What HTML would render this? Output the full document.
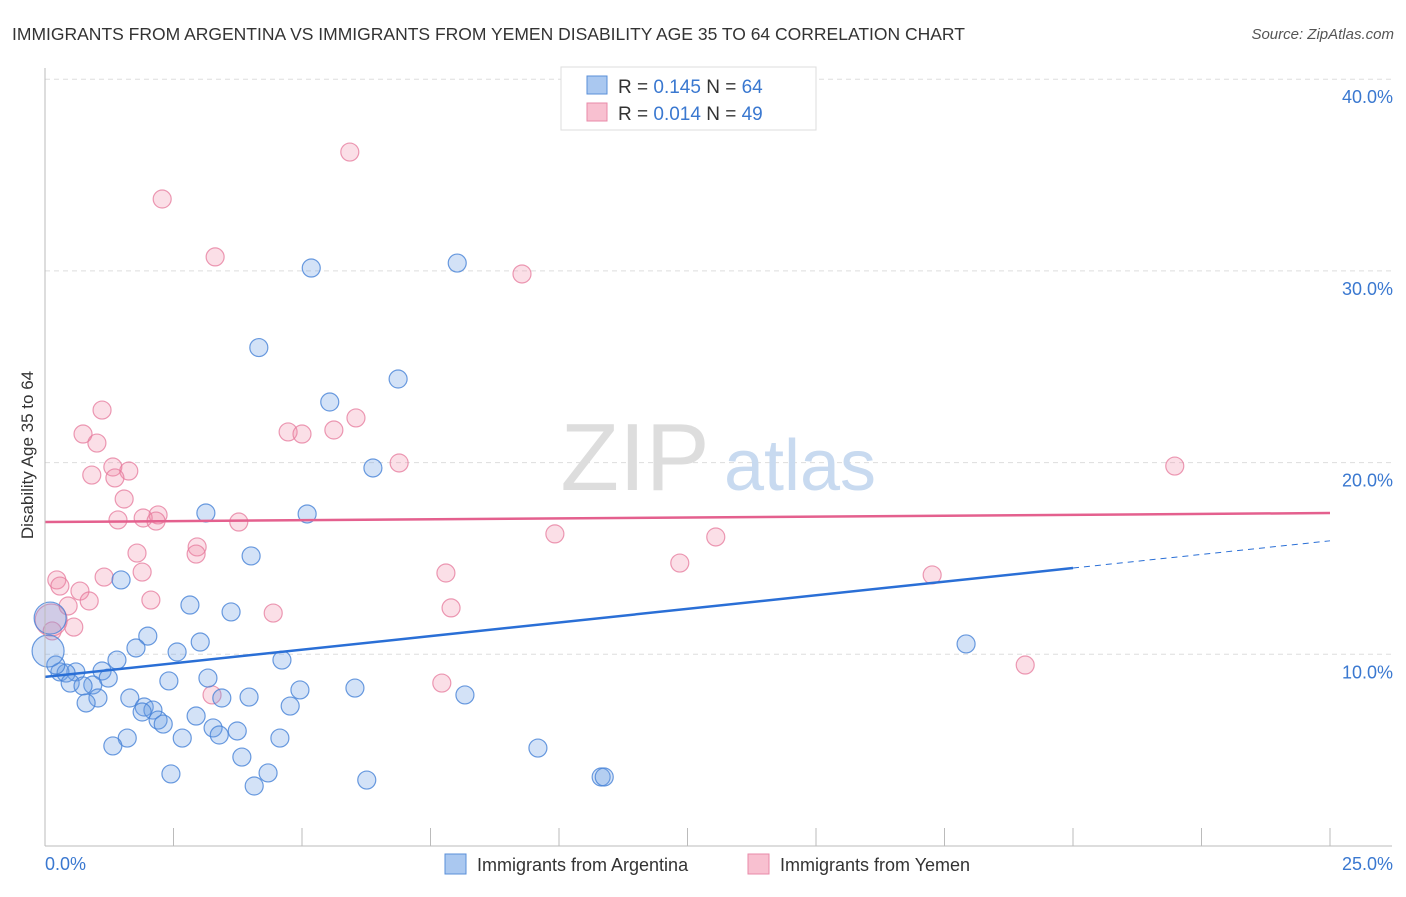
<!DOCTYPE html>
<html><head><meta charset="utf-8">
<style>
body{margin:0;background:#fff;font-family:"Liberation Sans",sans-serif;}
svg text{font-family:"Liberation Sans",sans-serif;}
</style></head>
<body>
<svg id="chart" width="1406" height="892" xmlns="http://www.w3.org/2000/svg">
<text x="12" y="40" font-size="17.5" fill="#333">IMMIGRANTS FROM ARGENTINA VS IMMIGRANTS FROM YEMEN DISABILITY AGE 35 TO 64 CORRELATION CHART</text>
<text x="1394" y="39" font-size="15" fill="#555" font-style="italic" text-anchor="end">Source: ZipAtlas.com</text>
<text x="0" y="0" transform="translate(33,455) rotate(-90)" font-size="17" fill="#333" text-anchor="middle">Disability Age 35 to 64</text>
<g id="grid"></g>
<g><text x="635" y="490" font-size="96" fill="#ddd" font-family="Liberation Serif" text-anchor="middle">ZIP</text><text x="800" y="490" font-size="72" fill="#c8daf0" text-anchor="middle">atlas</text></g>
<g id="pts"></g>
<g id="trends"></g>
<g id="axes"></g>
<g>
<rect x="561" y="67" width="255" height="63" fill="#fff" stroke="#ddd"/>
<rect x="587" y="76" width="20" height="18" fill="#aac8f0" stroke="#5a8fd8"/>
<rect x="587" y="103" width="20" height="18" fill="#f8c0d0" stroke="#e88aa8"/>
<text x="618" y="93" font-size="19" fill="#333">R = <tspan fill="#3a78d0">0.145</tspan>   N = <tspan fill="#3a78d0">64</tspan></text>
<text x="618" y="120" font-size="19" fill="#333">R = <tspan fill="#3a78d0">0.014</tspan>   N = <tspan fill="#3a78d0">49</tspan></text>
</g>
<g>
<rect x="445" y="854" width="21" height="20" fill="#aac8f0" stroke="#5a8fd8"/>
<text x="477" y="871" font-size="18" fill="#333">Immigrants from Argentina</text>
<rect x="748" y="854" width="21" height="20" fill="#f8c0d0" stroke="#e88aa8"/>
<text x="780" y="871" font-size="18" fill="#333">Immigrants from Yemen</text>
</g>
</svg>
<script>
const blueX=[5.18,8.02,4.16,6.87,5.54,6.38,3.13,5.10,4.01,1.48,2.82,3.62,2.00,1.77,3.02,2.57,1.40,4.61,0.60,0.29,1.11,0.41,1.23,0.49,0.93,0.74,3.17,2.41,4.96,6.03,8.17,3.97,3.44,1.65,1.03,0.80,1.93,2.10,4.77,2.94,1.89,2.20,2.30,3.27,2.67,3.39,3.74,4.57,1.60,1.32,3.83,9.59,2.45,4.34,4.07,6.26,10.82,10.88,17.92,0.21,0.06,0.10];
const blueY=[30.15,30.41,26.0,24.36,23.16,19.72,17.37,17.32,15.13,13.88,12.57,12.21,10.95,10.33,10.64,10.12,9.70,9.70,9.08,9.08,9.13,9.02,8.76,8.50,8.40,8.35,8.76,8.61,8.14,8.24,7.88,7.77,7.72,7.72,7.72,7.46,7.25,7.09,7.30,6.78,6.99,6.57,6.36,6.16,5.63,5.79,6.00,5.63,5.63,5.22,4.64,5.11,3.76,3.81,3.13,3.44,3.60,3.60,10.54,9.44,10.17,11.89];
const blueBig=[60,61];
const pinkX=[5.93,2.28,3.31,9.28,1.11,6.05,0.74,4.73,5.00,5.62,1.01,1.32,1.63,6.89,0.91,1.36,21.98,1.54,2.20,1.91,2.16,3.77,1.42,9.92,13.05,2.96,1.79,2.94,12.35,1.89,1.15,7.80,17.26,0.23,0.29,0.68,4.44,2.06,0.86,0.45,7.90,0.56,0.14,3.25,7.72,19.07,0.12];
const pinkY=[36.20,33.75,30.73,29.84,22.74,22.33,21.49,21.60,21.49,21.70,21.02,19.77,19.56,19.98,19.35,19.20,19.82,18.10,17.27,17.11,16.95,16.90,17.01,16.28,16.12,15.60,15.28,15.23,14.76,14.29,14.03,14.24,14.14,13.88,13.56,13.30,12.15,12.83,12.78,12.52,12.42,11.42,11.22,7.88,8.50,9.44,11.79];
const pinkBig=[46];
const yTicks=[10,20,30,40];
const yTickLabels=["10.0%","20.0%","30.0%","40.0%"];
const xTicks=[0,2.5,5,7.5,10,12.5,15,17.5,20,22.5,25];
const blueTrend=[8.82,15.92];
const pinkTrend=[16.90,17.37];
const blueSolidEnd=20;

const NS="http://www.w3.org/2000/svg";
const X=v=>45+v*51.4;
const Y=v=>846-v*19.17;
function mk(tag,attrs,parent){const e=document.createElementNS(NS,tag);for(const k in attrs)e.setAttribute(k,attrs[k]);parent.appendChild(e);return e;}
const grid=document.getElementById('grid'),axes=document.getElementById('axes'),pts=document.getElementById('pts'),tr=document.getElementById('trends');
yTicks.forEach((t,i)=>{
  const l=mk('line',{x1:45,x2:1392,y1:Y(t),y2:Y(t),stroke:'#ddd','stroke-dasharray':'5,4'},grid);
  
  
  const tx=mk('text',{x:1393,y:Y(t)+24,'font-size':18,fill:'#3a78d0','text-anchor':'end'},axes);
  tx.textContent=yTickLabels[i];
  
  
});
const ya=mk('line',{x1:45,x2:45,y1:68,y2:846,stroke:'#bbb'},axes);


const xa=mk('line',{x1:45,x2:1392,y1:846,y2:846,stroke:'#bbb'},axes);


xTicks.forEach(t=>{
  const k=mk('line',{x1:X(t),x2:X(t),y1:828,y2:846,stroke:'#bbb'},axes);
  
  
});
const xl0=mk('text',{x:45,y:870,'font-size':18,fill:'#3a78d0'},axes);xl0.textContent="0.0%";


const xl1=mk('text',{x:1393,y:870,'font-size':18,fill:'#3a78d0','text-anchor':'end'},axes);xl1.textContent="25.0%";


function drawPts(xs,ys,big,fill,stroke,name){
  xs.forEach((x,i)=>{
    const c=mk('circle',{cx:X(x),cy:Y(ys[i]),r:big.includes(i)?16:9,fill:fill,stroke:stroke,'stroke-width':1.2},pts);
    
    
  });
}
drawPts(pinkX,pinkY,pinkBig,'rgba(240,140,170,0.28)','rgba(230,120,155,0.75)','point-yemen');
drawPts(blueX,blueY,blueBig,'rgba(110,160,230,0.3)','rgba(70,130,215,0.8)','point-argentina');
const bAt=v=>blueTrend[0]+(blueTrend[1]-blueTrend[0])*v/25;
const b1=mk('line',{x1:X(0),y1:Y(blueTrend[0]),x2:X(blueSolidEnd),y2:Y(bAt(blueSolidEnd)),stroke:'#2a6fd6','stroke-width':2.5},tr);


const b2=mk('line',{x1:X(blueSolidEnd),y1:Y(bAt(blueSolidEnd)),x2:X(25),y2:Y(blueTrend[1]),stroke:'#2a6fd6','stroke-width':1,'stroke-dasharray':'6,5'},tr);


const p1=mk('line',{x1:X(0),y1:Y(pinkTrend[0]),x2:X(25),y2:Y(pinkTrend[1]),stroke:'#e4608e','stroke-width':2.5},tr);


</script>
</body></html>
